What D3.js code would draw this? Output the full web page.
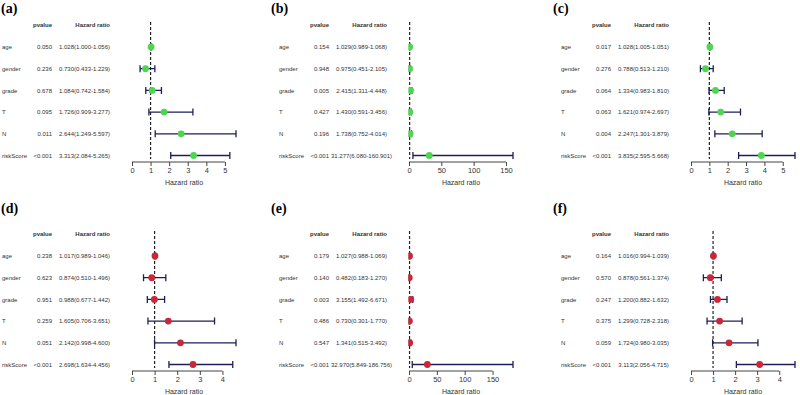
<!DOCTYPE html>
<meta charset="utf-8">
<style>
body { margin: 0; background: #fff; }
svg { font-family: 'Liberation Sans', Arial, sans-serif; }
.lab { font-family: 'Liberation Serif', 'Times New Roman', serif; font-weight: bold; font-size: 14px; }
.cell { font-size: 6px; fill: #333; }
.head { font-size: 6px; font-weight: bold; fill: #333; }
.tick text { font-size: 7.5px; fill: #333; }
</style>
<body>
<script src="https://cdnjs.cloudflare.com/ajax/libs/d3/7.8.5/d3.min.js"></script>
<script>
// data
var variables = ["age", "gender", "grade", "T", "N", "riskScore"];
var panelNames = ["(a)", "(b)", "(c)", "(d)", "(e)", "(f)"];

var pvalues = [
  ["0.050", "0.236", "0.678", "0.095", "0.011", "<0.001"],
  ["0.154", "0.948", "0.005", "0.427", "0.196", "<0.001"],
  ["0.017", "0.276", "0.064", "0.063", "0.004", "<0.001"],
  ["0.238", "0.623", "0.951", "0.259", "0.051", "<0.001"],
  ["0.179", "0.140", "0.003", "0.486", "0.547", "<0.001"],
  ["0.164", "0.570", "0.247", "0.375", "0.059", "<0.001"]
];
var hr = [
  [1.028, 0.730, 1.084, 1.726, 2.644, 3.313],
  [1.029, 0.975, 2.415, 1.430, 1.738, 31.277],
  [1.028, 0.788, 1.334, 1.621, 2.247, 3.835],
  [1.017, 0.874, 0.988, 1.605, 2.142, 2.698],
  [1.027, 0.482, 3.155, 0.730, 1.341, 32.970],
  [1.016, 0.878, 1.200, 1.299, 1.724, 3.113]
];
var hrLow = [
  [1.000, 0.433, 0.742, 0.909, 1.249, 2.084],
  [0.989, 0.451, 1.311, 0.591, 0.752, 6.080],
  [1.005, 0.513, 0.983, 0.974, 1.301, 2.595],
  [0.989, 0.510, 0.677, 0.706, 0.998, 1.634],
  [0.988, 0.183, 1.492, 0.301, 0.515, 5.849],
  [0.994, 0.561, 0.882, 0.728, 0.980, 2.056]
];
var hrHigh = [
  [1.056, 1.229, 1.584, 3.277, 5.597, 5.265],
  [1.068, 2.105, 4.448, 3.456, 4.014, 160.901],
  [1.051, 1.210, 1.810, 2.697, 3.879, 5.668],
  [1.046, 1.496, 1.442, 3.651, 4.600, 4.456],
  [1.069, 1.270, 6.671, 1.770, 3.492, 186.756],
  [1.039, 1.374, 1.632, 2.318, 3.035, 4.715]
];

var width = 800, height = 395;
var panelX = [0, 277, 559];
var panelY = [0, 209];
var pointColor = ["#4fd64f", "#c9283a"];
var barColor = "#1e1e58";
var f3 = d3.format(".3f");

var svg = d3.select("body").append("svg")
  .attr("width", width)
  .attr("height", height);

panelNames.forEach(function(name, p) {
  var col = p % 3, row = Math.floor(p / 3);
  var ox = panelX[col], oy = panelY[row];

  // panel letter sits a bit higher in the bottom row
  svg.append("text")
    .attr("class", "lab")
    .attr("x", Math.max(1, ox - 6))
    .attr("y", row === 0 ? 13 : 213)
    .text(name);

  var g = svg.append("g").attr("transform", "translate(" + ox + "," + oy + ")");

  var y = d3.scalePoint().domain(variables).range([47, 155.5]);
  var x = d3.scaleLinear().domain([0, d3.max(hrHigh[p])]).range([132, 236]);

  // clip marks at the left edge of the plot region (HR = 0)
  g.append("clipPath").attr("id", "clip" + p)
    .append("rect")
    .attr("x", x(0) - 0.7).attr("y", 0)
    .attr("width", 120).attr("height", 170);

  // table headers
  g.append("text").attr("class", "head").attr("x", 52).attr("y", 27)
    .attr("text-anchor", "end").text("pvalue");
  g.append("text").attr("class", "head").attr("x", 110).attr("y", 27)
    .attr("text-anchor", "end").text("Hazard ratio");

  // table rows
  variables.forEach(function(v, i) {
    var yy = y(v) + 2.1;
    g.append("text").attr("class", "cell").attr("x", 2).attr("y", yy).text(v);
    g.append("text").attr("class", "cell").attr("x", 52).attr("y", yy)
      .attr("text-anchor", "end").text(pvalues[p][i]);
    g.append("text").attr("class", "cell").attr("x", 84.5).attr("y", yy)
      .attr("text-anchor", "middle")
      .text(f3(hr[p][i]) + "(" + f3(hrLow[p][i]) + "-" + f3(hrHigh[p][i]) + ")");
  });

  // reference line at HR = 1
  g.append("line")
    .attr("x1", x(1)).attr("x2", x(1))
    .attr("y1", 22).attr("y2", 159)
    .attr("stroke", "#222").attr("stroke-width", 1.2)
    .attr("stroke-dasharray", "3,2");

  // confidence intervals with end caps
  var rows = variables.map(function(v, i) {
    return { v: v, hr: hr[p][i], lo: hrLow[p][i], hi: hrHigh[p][i] };
  });
  var marks = g.append("g").attr("clip-path", "url(#clip" + p + ")");
  var ci = marks.selectAll(".ci").data(rows).enter().append("g").attr("class", "ci")
    .attr("stroke", barColor).attr("stroke-width", 1.3);
  ci.append("line")
    .attr("x1", d => x(d.lo)).attr("x2", d => x(d.hi))
    .attr("y1", d => y(d.v)).attr("y2", d => y(d.v));
  ci.append("line")
    .attr("x1", d => x(d.lo)).attr("x2", d => x(d.lo))
    .attr("y1", d => y(d.v) - 3.5).attr("y2", d => y(d.v) + 3.5);
  ci.append("line")
    .attr("x1", d => x(d.hi)).attr("x2", d => x(d.hi))
    .attr("y1", d => y(d.v) - 3.5).attr("y2", d => y(d.v) + 3.5);

  marks.selectAll(".pt").data(rows).enter().append("circle")
    .attr("class", "pt")
    .attr("cx", d => x(d.hr)).attr("cy", d => y(d.v))
    .attr("r", 3.4)
    .attr("fill", pointColor[row]);

  // x axis, line only spans first to last tick
  var ticks = x.ticks(5);
  var ax = g.append("g")
    .attr("transform", "translate(0,162)")
    .call(d3.axisBottom(x).tickValues(ticks).tickFormat(d3.format("d"))
      .tickSize(4).tickPadding(1.5).tickSizeOuter(0));
  ax.attr("font-family", null).attr("font-size", null);
  ax.select(".domain").remove();
  ax.selectAll(".tick line").attr("stroke", "#444");
  ax.append("line")
    .attr("x1", x(ticks[0])).attr("x2", x(ticks[ticks.length - 1]))
    .attr("stroke", "#444");

  g.append("text")
    .attr("x", (x.range()[0] + x.range()[1]) / 2).attr("y", 184.5)
    .attr("text-anchor", "middle")
    .style("font-size", "7px").style("fill", "#333")
    .text("Hazard ratio");
});
</script>
</body>
